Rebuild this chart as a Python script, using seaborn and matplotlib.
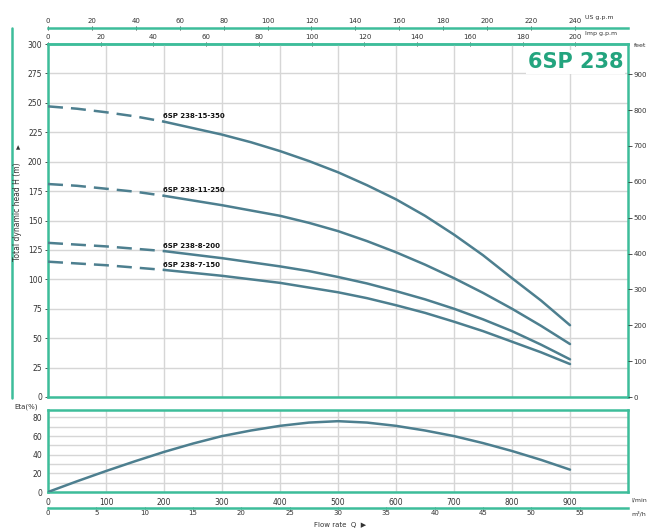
import matplotlib
matplotlib.use('Agg')
import matplotlib.pyplot as plt
import pandas as pd
import seaborn as sns
from matplotlib.lines import Line2D

# Données (débit en l/min, hauteur en m)
flow_lpm = [0, 50, 100, 150, 200, 250, 300, 350, 400, 450,
            500, 550, 600, 650, 700, 750, 800, 850, 900]
head_15_350 = [247, 245, 242, 238.5, 234, 228.5, 223, 216.5, 209, 200.5,
               191, 180, 168, 154, 138, 120.5, 101, 82, 61]
head_11_250 = [181, 179.5, 177, 174.5, 171, 167, 163, 158.5, 154, 148,
               141, 132.5, 123, 112.5, 101, 88.5, 75, 60.5, 45]
head_8_200 = [131, 129.5, 128, 126, 124, 121, 118, 114.5, 111, 107,
              102, 96.5, 90, 83, 75, 66, 56, 44.5, 32]
head_7_150 = [115, 113.5, 112, 110, 108, 105.5, 103, 100, 97, 93,
              89, 84, 78, 71.5, 64, 56, 47, 38, 28]
model_names = ['6SP 238-15-350', '6SP 238-11-250', '6SP 238-8-200', '6SP 238-7-150']
dash_end = 200  # en dessous : courbe en pointillés

# Rendement
eta_flow = [0, 50, 100, 150, 200, 250, 300, 350, 400, 450,
            500, 550, 600, 650, 700, 750, 800, 850, 900]
eta_values = [0, 11.5, 22.5, 33, 43, 52, 60, 66, 71, 74.5,
              76, 74.5, 71, 66, 60, 52.5, 44, 34.5, 24]

head_ticks = list(range(0, 301, 25))
feet_ticks = list(range(0, 901, 100))
lpm_ticks = list(range(0, 901, 100))
us_gpm_ticks = list(range(0, 241, 20))
imp_gpm_ticks = list(range(0, 201, 20))
m3h_ticks = list(range(0, 56, 5))
eta_ticks = [0, 20, 40, 60, 80]

# Couleurs
teal = '#3dbd9a'
title_green = '#23a47e'
curve_color = '#4d7f8f'
grid_color = '#d6d6d6'
txt = '#333333'

sns.set_style('white')
plt.rcParams['font.family'] = ['DejaVu Sans']

W, H = 654, 529
fig = plt.figure(figsize=(W / 100, H / 100), dpi=100)


def fx(px):
    return px / W


def fy(py):
    return 1 - py / H


ax = fig.add_axes([fx(48), fy(397), fx(628) - fx(48), fy(44) - fy(397)])
ax_eta = fig.add_axes([fx(48), fy(492), fx(628) - fx(48), fy(410) - fy(492)])

# Tableau long pour seaborn
heads = [head_15_350, head_11_250, head_8_200, head_7_150]
df = pd.DataFrame({
    'flow': flow_lpm * len(model_names),
    'head': [h for serie in heads for h in serie],
    'model': [m for m in model_names for _ in flow_lpm],
})
dashed = df[df['flow'] <= dash_end]
solid = df[df['flow'] >= dash_end]

sns.lineplot(data=dashed, x='flow', y='head', units='model', estimator=None,
             color=curve_color, lw=1.8, linestyle=(0, (6, 3.2)), ax=ax, zorder=3)
sns.lineplot(data=solid, x='flow', y='head', units='model', estimator=None,
             color=curve_color, lw=1.8, ax=ax, zorder=3)

# Étiquettes des courbes
for name, serie in zip(model_names, heads):
    y0 = serie[flow_lpm.index(dash_end)]
    ax.text(dash_end - 2, y0 + 2, name, fontsize=5, fontweight='bold',
            color='#111111', ha='left', va='bottom', zorder=4)

ax.set_xlim(0, 1000)
ax.set_ylim(0, 300)
ax.set_xticks(lpm_ticks)
ax.set_yticks(head_ticks)
ax.grid(True, color=grid_color, lw=1)
ax.tick_params(axis='x', bottom=False, labelbottom=False)
ax.tick_params(axis='y', length=2, width=0.6, pad=2, labelsize=5.5, colors=txt)
ax.set_xlabel('')
ax.set_ylabel('')
for s in ax.spines.values():
    s.set_color(teal)
    s.set_linewidth(1.8)

ax.text(0.992, 0.948, '6SP 238', transform=ax.transAxes, ha='right', va='center',
        fontsize=15, fontweight='bold', color=title_green, zorder=5,
        bbox=dict(facecolor='white', edgecolor='none', pad=1.5))

# Axe des pieds à droite
ax_ft = ax.twinx()
ax_ft.set_ylim(0, 300 / 0.3048)
ax_ft.set_yticks(feet_ticks)
ax_ft.tick_params(axis='y', length=3, width=0.6, pad=1, labelsize=5, colors=txt)
for s in ax_ft.spines.values():
    s.set_visible(False)
ax_ft.grid(False)

# Axes secondaires du haut (g.p.m)
imp = ax.secondary_xaxis('top', functions=(lambda q: q / 4.54609, lambda g: g * 4.54609))
imp.set_xticks(imp_gpm_ticks)
imp.tick_params(length=2.5, width=0.6, pad=1.5, labelsize=5, colors=txt, direction='inout')
imp.spines['top'].set_color(teal)
imp.spines['top'].set_linewidth(1.8)

us = ax.secondary_xaxis(1.045, functions=(lambda q: q / 3.78541, lambda g: g * 3.78541))
us.set_xticks(us_gpm_ticks)
us.tick_params(length=2.5, width=0.6, pad=1.5, labelsize=5, colors=txt, direction='inout')
us.spines['top'].set_color(teal)
us.spines['top'].set_linewidth(1.8)

# Panneau du rendement
sns.lineplot(x=eta_flow, y=eta_values, color=curve_color, lw=1.8, ax=ax_eta, zorder=3)
ax_eta.set_xlim(0, 1000)
ax_eta.set_ylim(0, 88)
ax_eta.set_xticks(lpm_ticks)
ax_eta.set_yticks(eta_ticks)
ax_eta.set_yticks(list(range(10, 81, 10)), minor=True)
ax_eta.grid(True, which='both', color=grid_color, lw=1)
ax_eta.tick_params(axis='both', which='major', length=2, width=0.6, pad=2,
                   labelsize=5.5, colors=txt)
ax_eta.tick_params(axis='y', which='minor', length=0)
for s in ax_eta.spines.values():
    s.set_color(teal)
    s.set_linewidth(1.8)

m3h = ax_eta.secondary_xaxis(-0.195, functions=(lambda q: q * 0.06, lambda v: v / 0.06))
m3h.set_xticks(m3h_ticks)
m3h.tick_params(length=2, width=0.6, pad=0.5, labelsize=5, colors=txt, direction='inout')
m3h.spines['bottom'].set_color(teal)
m3h.spines['bottom'].set_linewidth(1.8)

# Textes d'unités
fig.text(fx(585), fy(18), 'US g.p.m', fontsize=4.5, color=txt, va='center')
fig.text(fx(585), fy(34), 'Imp g.p.m', fontsize=4.5, color=txt, va='center')
fig.text(fx(634), fy(46), 'feet', fontsize=4.5, color=txt, va='center')
fig.text(fx(631), fy(500), 'l/min', fontsize=4.5, color=txt, va='center')
fig.text(fx(631), fy(514), 'm³/h', fontsize=4.5, color=txt, va='center')
fig.text(fx(340), fy(525), 'Flow rate  Q  ▶', fontsize=5, color=txt,
         ha='center', va='center')
fig.text(fx(14), fy(407), 'Eta(%)', fontsize=5, color=txt, va='center')
fig.text(fx(18), fy(212), 'Total dynamic head H (m)', fontsize=5.5, color=txt,
         rotation=90, ha='center', va='center')
fig.text(fx(18), fy(148), '▲', fontsize=4, color=txt, ha='center', va='center')

# Trait vertical décoratif à gauche
fig.add_artist(Line2D([fx(12), fx(12)], [fy(28), fy(398)], color=teal, lw=1.8))

fig.savefig('out.png', dpi=100, facecolor='white')
